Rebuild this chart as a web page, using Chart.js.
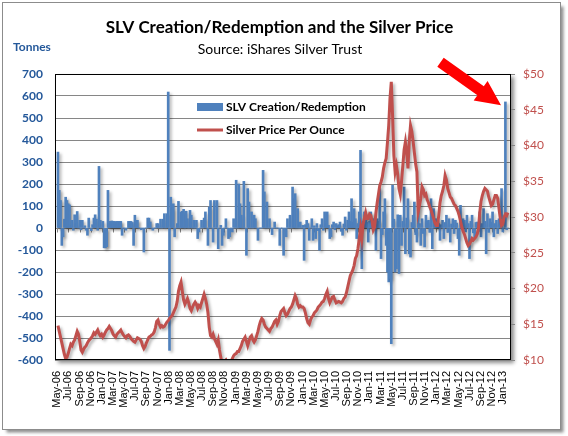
<!DOCTYPE html>
<html>
<head>
<meta charset="utf-8">
<title>SLV Creation/Redemption and the Silver Price</title>
<script src="https://cdn.jsdelivr.net/npm/chart.js@4.4.1/dist/chart.umd.min.js"></script>
<style>
  html, body { margin: 0; padding: 0; background: #fff; }
  #wrap { position: relative; width: 568px; height: 436px; }
  canvas { position: absolute; left: 0; top: 0; }
</style>
</head>
<body>
<div id="wrap"><canvas id="slvChart" width="568" height="436"></canvas></div>
<script>
// Weekly SLV creation (+) / redemption (-) in tonnes, first week = week of May 5 2006
const flows2006 = [345, 171, 125, -79, -40, 40, 140, 125, 110, 105, 10, 35, -10, 60, 20, 75, 0, 35, -8, 35,
  0, 10, -10, -33, 45, 0, -12, 15, 45, 60, 40, -10, 280, 35, 0];
const flows2007 = [30, -90, -90, -85, 171, 30, 30, 32, 30, 30, 28, 30, 30, 30, 30, -33, 0, 0, -10, 0,
  30, 30, 30, 25, -79, 58, 35, 35, 0, 0, -8, 0, -109, 0, 0, 45, 45, 27, 0, -10,
  0, 0, 20, 20, 0, 40, 0, 40, 65, 0, 65, 618];
const flows2008 = [-556, 140, 88, 110, -40, 0, 20, 121, 0, 73, 76, 85, 0, 76, 42, 0, 80, 58, 0, 35,
  0, 35, -48, -18, 0, 35, 0, 45, 73, 0, -79, 95, 125, 0, -64, 125, 0, 125, -94, 0,
  12, -79, -33, 0, 42, 0, -48, -40, 0, -18, 42, 0];
const flows2009 = [217, 0, 200, 110, 58, 0, 212, 0, -124, 179, 118, 0, 73, 0, 58, 42, 0, -56, 0, 0,
  0, 262, 164, 0, 118, 0, 42, 0, -30, 0, 27, 0, 0, 0, -79, 0, 0, -124, 0, -40,
  42, 0, 58, 0, 186, 133, 156, 0, 88, 0, 27, 0];
const flows2010 = [12, -147, 15, 35, 20, -56, 0, 42, -56, 10, -48, 20, -12, -101, 15, 42, -10, 73, 20, 73,
  12, -48, -40, 15, 27, -8, 20, 10, 15, 27, -15, -33, 18, 50, -10, 35, 73, 30, 133, 25,
  88, 42, -48, 20, 73, 353, -185, 30, 73, 58, 25, -64, 30];
const flows2011 = [73, 42, 25, 42, -101, 42, 30, 179, -139, -30, 73, 133, -79, -200, -245, -230, -526, 194, 40, -200,
  -185, 60, -207, 58, -79, 30, 186, -117, 45, 133, -117, -132, 25, 58, 118, -30, -64, 110, 20, -79,
  42, -25, -86, 58, 30, 35, -20, 133, -94, 88, 25, 42];
const flows2012 = [35, 20, -56, 15, 35, -48, 25, 58, -20, 42, -64, 18, 42, -25, 35, 22, -48, -124, 103, 15,
  42, 35, -18, 58, 20, -139, 30, 58, -22, -48, 25, 27, -15, 73, -40, 20, 88, 30, -117, 65,
  -20, 42, 25, 73, -40, 20, 35, -25, 42, 30, 179, -18];
const flows2013 = [0, 573, -8, 0];

// Weekly silver price, US$ per ounce
const price2006 = [14.8, 14.0, 13.2, 12.4, 11.6, 10.8, 10.2, 10.4, 10.9, 11.6, 12.2, 12.0, 12.5, 12.8, 13.4, 14.0, 13.6, 12.6, 11.4, 11.1,
  11.5, 11.8, 12.0, 12.4, 12.7, 12.9, 13.1, 13.4, 13.8, 13.6, 13.9, 14.2, 13.7, 13.4, 13.6];
const price2007 = [13.2, 13.5, 13.9, 14.2, 14.4, 14.7, 14.4, 14.1, 13.6, 13.4, 13.2, 13.6, 13.8, 14.0, 14.2, 13.8, 13.5, 13.3, 13.1, 13.4,
  13.5, 13.3, 13.0, 12.8, 12.6, 12.5, 12.8, 13.1, 13.0, 12.9, 12.6, 12.0, 11.6, 11.9, 12.4, 12.8, 13.2, 13.3, 13.5, 13.6,
  13.9, 14.5, 15.4, 15.6, 15.0, 14.6, 14.8, 14.6, 14.7, 15.0, 15.3, 15.5];
const price2008 = [15.8, 16.0, 16.2, 16.6, 17.0, 17.4, 18.2, 19.6, 20.4, 20.9, 19.6, 18.4, 17.8, 18.2, 18.6, 18.0, 17.2, 16.9, 17.4, 17.8,
  18.1, 17.8, 17.2, 17.6, 17.4, 18.0, 18.6, 19.2, 18.6, 17.8, 16.6, 14.6, 13.4, 13.2, 13.6, 13.0, 12.6, 12.2, 12.8, 11.4,
  10.4, 9.6, 9.2, 9.8, 10.0, 9.6, 9.4, 9.8, 9.8, 10.2, 10.6, 10.8];
const price2009 = [10.9, 11.2, 11.2, 11.6, 12.0, 12.6, 12.9, 13.2, 12.6, 12.0, 12.6, 13.2, 13.4, 12.8, 12.5, 12.8, 13.4, 14.0, 14.8, 15.4,
  15.8, 15.6, 15.0, 14.6, 14.4, 14.2, 14.0, 14.4, 14.6, 15.0, 15.4, 15.6, 15.0, 15.4, 16.2, 16.8, 17.0, 17.2, 16.6, 16.2,
  16.4, 16.8, 17.2, 17.4, 17.8, 18.4, 19.0, 18.6, 17.8, 17.4, 17.6, 17.4];
const price2010 = [17.4, 17.2, 16.6, 15.8, 15.2, 15.0, 15.6, 16.0, 16.2, 16.6, 16.8, 17.0, 17.4, 17.6, 17.8, 18.1, 18.2, 18.6, 19.2, 19.6,
  18.6, 18.0, 18.4, 18.8, 18.9, 18.4, 18.0, 18.1, 18.2, 18.1, 18.0, 18.2, 18.6, 18.8, 19.4, 20.2, 21.0, 21.8, 22.2, 22.6,
  23.2, 24.2, 24.6, 25.6, 27.0, 28.4, 27.0, 29.0, 29.8, 30.6, 29.8, 29.8, 30.4];
const price2011 = [30.2, 29.4, 28.2, 28.6, 30.6, 32.0, 33.2, 34.4, 34.9, 35.6, 36.8, 37.6, 38.2, 40.4, 42.8, 46.6, 48.9, 44.2, 38.6, 36.3,
  37.2, 36.0, 34.0, 33.2, 35.0, 37.2, 39.4, 40.5, 39.0, 36.8, 40.6, 42.8, 42.0, 40.6, 39.0, 37.4, 36.3, 30.7, 31.6, 32.6,
  34.2, 33.8, 33.0, 33.2, 32.4, 32.0, 31.4, 31.0, 30.4, 29.8, 29.2, 28.8];
const price2012 = [28.8, 30.2, 32.0, 33.0, 33.6, 34.4, 35.8, 35.2, 34.0, 33.4, 32.8, 32.6, 32.2, 31.8, 31.6, 31.2, 30.8, 30.2, 29.4, 28.6,
  28.0, 27.6, 27.0, 26.4, 26.0, 26.2, 26.6, 27.0, 26.8, 27.0, 27.2, 27.6, 28.4, 30.6, 32.2, 33.0, 33.6, 34.0, 33.8, 33.6,
  32.8, 32.2, 31.6, 31.8, 32.4, 33.0, 33.0, 32.6, 31.2, 29.8, 28.8, 29.0];
const price2013 = [30.0, 30.4, 30.2, 30.6];

const tickLabels = ['May-06', 'Jul-06', 'Sep-06', 'Nov-06', 'Jan-07', 'Mar-07', 'May-07', 'Jul-07', 'Sep-07', 'Nov-07',
  'Jan-08', 'Mar-08', 'May-08', 'Jul-08', 'Sep-08', 'Nov-08', 'Jan-09', 'Mar-09', 'May-09', 'Jul-09',
  'Sep-09', 'Nov-09', 'Jan-10', 'Mar-10', 'May-10', 'Jul-10', 'Sep-10', 'Nov-10', 'Jan-11', 'Mar-11',
  'May-11', 'Jul-11', 'Sep-11', 'Nov-11', 'Jan-12', 'Mar-12', 'May-12', 'Jul-12', 'Sep-12', 'Nov-12', 'Jan-13'];

const flows = [...flows2006, ...flows2007, ...flows2008, ...flows2009, ...flows2010, ...flows2011, ...flows2012, ...flows2013];
const prices = [...price2006, ...price2007, ...price2008, ...price2009, ...price2010, ...price2011, ...price2012, ...price2013];

// x axis unit = months since 1 May 2006; week i falls on Friday May 5 + 7i days
const weekToMonth = i => (i * 7 + 4) / 30.4375;

const BLUE = '#4F81BD';
const RED = '#C0504D';
const AXIS_BLUE = '#24589A';
const GRID = '#868686';

const decor = {
  id: 'decor',
  beforeDraw(chart) {
    const ctx = chart.ctx;
    const a = chart.chartArea;
    ctx.save();
    ctx.fillStyle = '#fff';
    ctx.fillRect(0, 0, chart.width, chart.height);
    // outer frame with shadow
    ctx.shadowColor = 'rgba(0,0,0,0.45)';
    ctx.shadowOffsetX = 3;
    ctx.shadowOffsetY = 3;
    ctx.shadowBlur = 3;
    ctx.fillRect(2.5, 2.5, 558, 427);
    ctx.shadowColor = 'transparent';
    ctx.strokeStyle = '#8c8c8c';
    ctx.lineWidth = 1;
    ctx.strokeRect(2.5, 2.5, 558, 427);
    // plot area with shadow
    ctx.shadowColor = 'rgba(0,0,0,0.45)';
    ctx.shadowOffsetX = 3;
    ctx.shadowOffsetY = 3;
    ctx.shadowBlur = 4;
    ctx.fillRect(a.left, a.top, a.right - a.left, a.bottom - a.top);
    ctx.restore();
  },
  beforeDatasetsDraw(chart) {
    // little tick marks hanging under the zero line
    const ctx = chart.ctx;
    const xs = chart.scales.x;
    const y0 = Math.round(chart.scales.yTonnes.getPixelForValue(0)) + 0.5;
    ctx.save();
    ctx.strokeStyle = GRID;
    ctx.lineWidth = 1;
    ctx.beginPath();
    tickLabels.forEach((t, i) => {
      const x = Math.round(xs.getPixelForValue(i * 2)) + 0.5;
      ctx.moveTo(x, y0);
      ctx.lineTo(x, y0 + 4);
    });
    ctx.stroke();
    ctx.restore();
  },
  beforeDatasetDraw(chart) {
    const ctx = chart.ctx;
    ctx.save();
    ctx.shadowColor = 'rgba(0,0,0,0.3)';
    ctx.shadowOffsetX = 2;
    ctx.shadowOffsetY = 2;
    ctx.shadowBlur = 3;
  },
  afterDatasetDraw(chart) {
    chart.ctx.restore();
  },
  afterDatasetsDraw(chart) {
    const ctx = chart.ctx;
    const a = chart.chartArea;
    ctx.save();
    ctx.strokeStyle = '#000';
    ctx.lineWidth = 1;
    ctx.strokeRect(a.left + 0.5, a.top + 0.5, a.right - a.left - 1, a.bottom - a.top - 1);

    // legend inside the plot
    ctx.fillStyle = BLUE;
    ctx.fillRect(197, 103, 26, 8);
    ctx.strokeStyle = RED;
    ctx.lineWidth = 3;
    ctx.beginPath();
    ctx.moveTo(197, 130);
    ctx.lineTo(223, 130);
    ctx.stroke();
    ctx.fillStyle = '#000';
    ctx.font = 'bold 12px Lato';
    ctx.textAlign = 'left';
    ctx.textBaseline = 'alphabetic';
    ctx.fillText(chart.data.datasets[1].label, 226, 111, 142);
    ctx.fillText(chart.data.datasets[0].label, 226, 134, 119);

    // red arrow pointing at the last spike
    const tail = [440.5, 62.3], tip = [501, 105.3];
    const dx = tip[0] - tail[0], dy = tip[1] - tail[1];
    const len = Math.hypot(dx, dy);
    const ux = dx / len, uy = dy / len, nx = -uy, ny = ux;
    const shaft = 5.5, head = 12, headLen = 25;
    const bx = tip[0] - ux * headLen, by = tip[1] - uy * headLen;
    ctx.fillStyle = '#FF0000';
    ctx.beginPath();
    ctx.moveTo(tail[0] + nx * shaft, tail[1] + ny * shaft);
    ctx.lineTo(bx + nx * shaft, by + ny * shaft);
    ctx.lineTo(bx + nx * head, by + ny * head);
    ctx.lineTo(tip[0], tip[1]);
    ctx.lineTo(bx - nx * head, by - ny * head);
    ctx.lineTo(bx - nx * shaft, by - ny * shaft);
    ctx.lineTo(tail[0] - nx * shaft, tail[1] - ny * shaft);
    ctx.closePath();
    ctx.fill();
    ctx.restore();
  },
  afterDraw(chart) {
    const ctx = chart.ctx;
    ctx.save();
    ctx.textBaseline = 'alphabetic';
    ctx.textAlign = 'center';
    ctx.fillStyle = '#000';
    ctx.font = 'bold 17px Lato';
    ctx.fillText('SLV Creation/Redemption and the Silver Price', 279.5, 33, 355);
    ctx.font = '14px Lato';
    ctx.fillText('Source: iShares Silver Trust', 280, 54, 172);
    ctx.textAlign = 'left';
    ctx.fillStyle = AXIS_BLUE;
    ctx.font = 'bold 12px Lato';
    ctx.fillText('Tonnes', 13, 51, 38);
    ctx.restore();
  }
};

const ctx = document.getElementById('slvChart').getContext('2d');
const slvChart = new Chart(ctx, {
  type: 'bar',
  data: {
    datasets: [
      {
        type: 'line',
        label: 'Silver Price Per Ounce',
        data: prices.map((p, i) => ({ x: weekToMonth(i), y: p })),
        yAxisID: 'yPrice',
        borderColor: RED,
        borderWidth: 3,
        pointRadius: 0,
        tension: 0,
        order: 0
      },
      {
        type: 'bar',
        label: 'SLV Creation/Redemption',
        data: flows.map((f, i) => ({ x: weekToMonth(i), y: f })),
        yAxisID: 'yTonnes',
        backgroundColor: BLUE,
        barThickness: 2,
        order: 1
      }
    ]
  },
  options: {
    responsive: false,
    animation: false,
    devicePixelRatio: 1,
    layout: { padding: { top: 74, left: 0, right: 0, bottom: 0 }, autoPadding: false },
    plugins: {
      legend: { display: false },
      tooltip: { enabled: false },
      title: { display: false }
    },
    scales: {
      x: {
        type: 'linear',
        offset: false,
        min: -0.4,
        max: 81.4,
        grid: { display: false, drawTicks: false },
        border: { display: false },
        afterBuildTicks: scale => { scale.ticks = tickLabels.map((t, i) => ({ value: i * 2 })); },
        afterFit: scale => { scale.height = 76; },
        ticks: {
          autoSkip: false,
          minRotation: 90,
          maxRotation: 90,
          padding: 11,
          color: '#000',
          font: { family: 'Liberation Sans', size: 11 },
          callback: v => tickLabels[Math.round(v / 2)]
        }
      },
      yTonnes: {
        position: 'left',
        min: -600,
        max: 700,
        grid: { color: GRID, drawTicks: false },
        border: { display: false },
        afterFit: scale => { scale.width = 55; },
        ticks: {
          stepSize: 100,
          padding: 12,
          color: AXIS_BLUE,
          font: { family: 'Lato', size: 12, weight: 'bold' }
        }
      },
      yPrice: {
        position: 'right',
        min: 10,
        max: 50,
        grid: { drawOnChartArea: false, color: GRID, tickLength: 4 },
        border: { display: false },
        afterFit: scale => { scale.width = 57; },
        ticks: {
          stepSize: 5,
          padding: 8,
          color: RED,
          font: { family: 'Lato', size: 12 },
          callback: v => '$' + v
        }
      }
    }
  },
  plugins: [decor]
});
</script>
</body>
</html>
